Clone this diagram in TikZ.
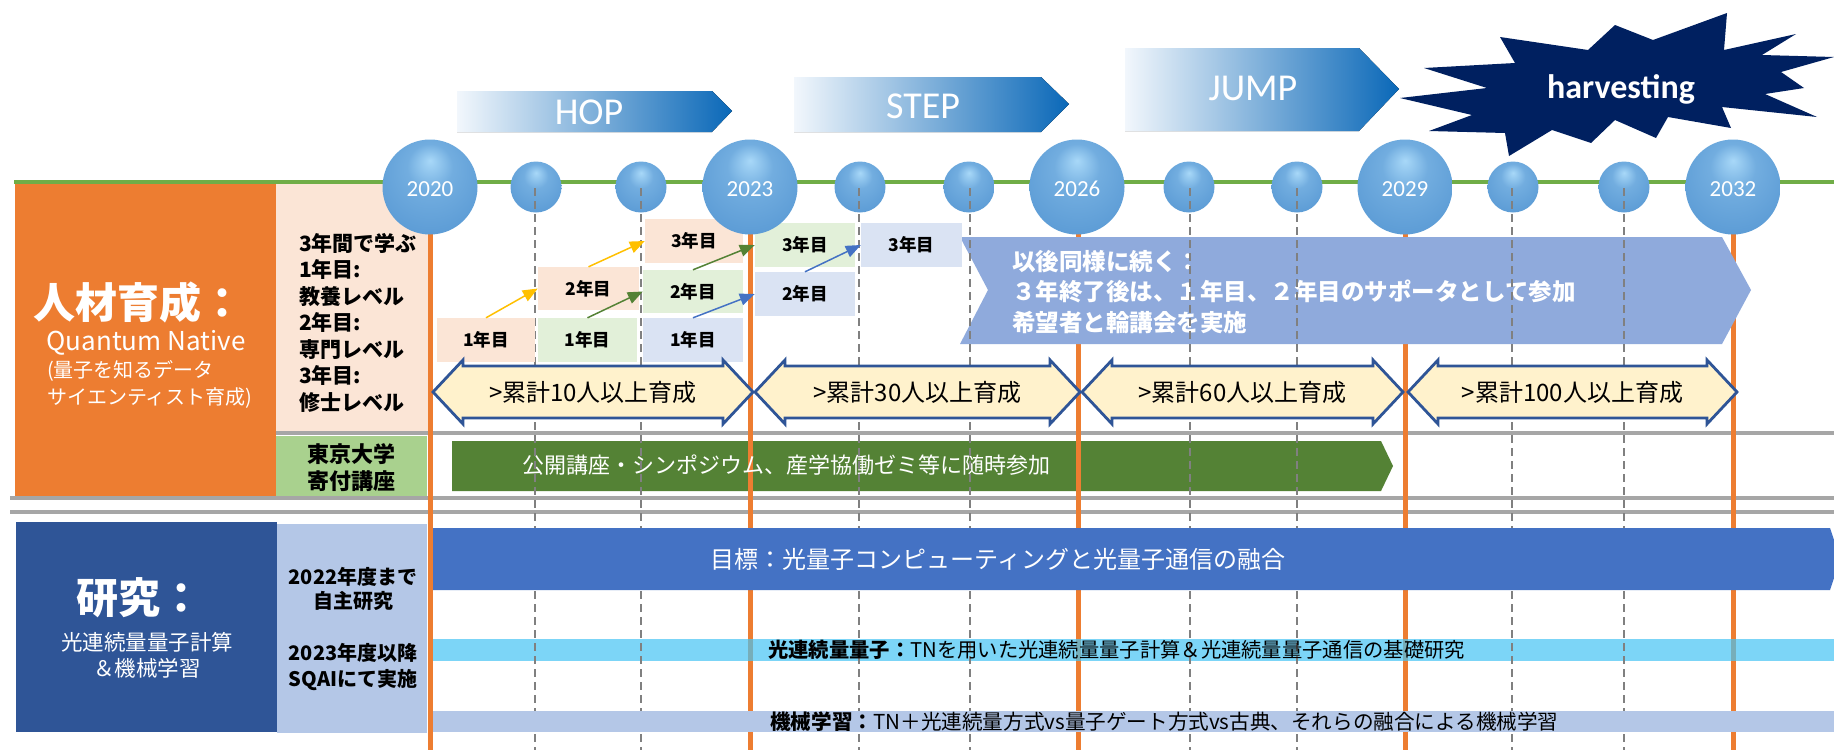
\documentclass[tikz,border=0pt]{standalone}
\usepackage{fontspec}
\setmainfont{Noto Sans CJK JP}
\newfontfamily\carl{Carlito}
\usetikzlibrary{arrows.meta}
\definecolor{cOrange}{HTML}{ED7D31}
\definecolor{cPeach}{HTML}{FBE5D6}
\definecolor{cLGreen}{HTML}{A9D18E}
\definecolor{cNavy}{HTML}{002060}
\definecolor{cDBlue}{HTML}{2F5597}
\definecolor{cLBlue}{HTML}{B4C7E7}
\definecolor{cBlue}{HTML}{4472C4}
\definecolor{cCyan}{RGB}{69,196,244}
\definecolor{cChev}{HTML}{8FAADC}
\definecolor{cGreen}{HTML}{548235}
\definecolor{cTLine}{HTML}{70AD47}
\definecolor{cBoxG}{HTML}{E2F0D9}
\definecolor{cBoxB}{HTML}{DAE3F3}
\definecolor{cYellow}{HTML}{FFC000}
\definecolor{cCream}{HTML}{FFF2CC}
\definecolor{cGray}{HTML}{A6A6A6}
\definecolor{cDash}{HTML}{808080}
\definecolor{ballhi}{HTML}{A8D8F8}
\definecolor{ballmid}{HTML}{5B9BD5}
\definecolor{ballrim}{HTML}{4A86C0}
\definecolor{gradL}{HTML}{F2F7FC}
\definecolor{gradR}{HTML}{0A68B8}
\pgfdeclareradialshading{ballsh}{\pgfpoint{0bp}{14bp}}{color(0bp)=(ballhi); color(12bp)=(ballmid!70!ballhi); color(32bp)=(ballmid); color(46bp)=(ballrim); color(50bp)=(ballrim)}
\newcommand\dblarr[4]{%
  \draw[dblshape] (#2,392) -- (#2+30,360) -- (#2+30,366) -- (#3-30,366) -- (#3-30,360) -- (#3,392) -- (#3-30,424) -- (#3-30,418) -- (#2+30,418) -- (#2+30,424) -- cycle;
  \node[dbltext] (#1) at ({(#2+#3)/2},392) {#4};}
\begin{document}
\begin{tikzpicture}[x=1pt,y=-1pt,
  orangeline/.style={cOrange, line width=5pt},
  dashline/.style={cDash, line width=1.8pt, dash pattern=on 8pt off 5pt},
  grayline/.style={cGray, line width=4pt},
  yeartext/.style={font=\carl\fontsize{23}{23}\selectfont, text=white, inner sep=0},
  yrbox/.style={fill=#1, inner sep=0, minimum height=44pt, minimum width=99pt, font=\fontsize{17.5}{17.5}\selectfont\bfseries},
  grow/.style={-{Triangle[length=15pt,width=12pt]}, line width=1.5pt, #1},
  dblshape/.style={draw=cDBlue, fill=cCream, line width=2.8pt, line join=miter},
  dbltext/.style={font=\fontsize{24}{24}\selectfont, inner sep=0},
  phase/.style={left color=gradL, right color=gradR},
  phasetext/.style={font=\carl\fontsize{38}{38}\selectfont, text=white, inner sep=0},
  wtext/.style={text=white, inner sep=0},
  ktext/.style={text=black, inner sep=0}]
\useasboundingbox (0,0) rectangle (1834,750);
\fill[white] (0,0) rectangle (1834,750);
% left panels
\fill[cOrange] (15,184) rectangle (276,496);
\fill[cPeach] (276,184) rectangle (428,432);
\fill[cLGreen] (276,436) rectangle (427,496);
\fill[cDBlue] (16,522) rectangle (277,732);
\fill[cLBlue] (277,524) rectangle (427,733);
% timeline
\draw[cTLine, line width=3.5pt] (14,182) -- (1834,182);
% gray separators
\draw[grayline] (276,433) -- (1834,433);
\draw[grayline] (10,498) -- (1834,498);
\draw[grayline] (10,512) -- (1834,512);
% left texts
\node[wtext, font=\fontsize{42}{42}\selectfont\bfseries] (jinzai) at (139,302) {人材育成：};
\node[wtext, font=\fontsize{26}{26}\selectfont] (qn) at (146,343) {Quantum Native};
\node[wtext, anchor=west, align=left, font=\fontsize{20}{27}\selectfont] (qnsub) at (47,384) {(量子を知るデータ\\サイエンティスト育成)};
\node[ktext, anchor=west, align=left, font=\fontsize{21}{26.5}\selectfont\bfseries] (learn) at (299,322.5) {3年間で学ぶ\\1年目:\\教養レベル\\2年目:\\専門レベル\\3年目:\\修士レベル};
\node[ktext, align=center, font=\fontsize{22}{27}\selectfont\bfseries] (todai) at (351,468) {東京大学\\寄付講座};
\node[wtext, font=\fontsize{42}{42}\selectfont\bfseries] (kenkyu) at (139,598) {研究：};
\node[wtext, align=center, font=\fontsize{21.5}{26}\selectfont] (kenkyusub) at (147,655) {光連続量量子計算\\＆機械学習};
\node[ktext, align=center, font=\fontsize{20}{24}\selectfont\bfseries] (jishu) at (353,589) {2022年度まで\\自主研究};
\node[ktext, align=center, font=\fontsize{20}{26}\selectfont\bfseries] (sqai) at (353,667) {2023年度以降\\SQAIにて実施};
% green bar
\fill[cGreen] (452,441) -- (1381,441) -- (1393,466) -- (1381,491) -- (452,491) -- cycle;
% orange year lines
\foreach \x in {430,750,1078,1405,1733} \draw[orangeline] (\x,225) -- (\x,750);
\node[wtext, anchor=west, font=\fontsize{22}{22}\selectfont] (gbar) at (522,465) {公開講座・シンポジウム、産学協働ゼミ等に随時参加};
% small balls
\foreach \x in {536,641,860,969,1189,1297,1513,1624}
  \shade[shading=ballsh] (\x,187) circle (25.5pt);
% chevron
\fill[cChev] (960,237) -- (1722,237) -- (1751,290) -- (1722,344) -- (960,344) -- (988,290) -- cycle;
\node[wtext, anchor=west, align=left, font=\fontsize{23.5}{30.5}\selectfont\bfseries] (chev) at (1012,292) {以後同様に続く：\\３年終了後は、１年目、２年目のサポータとして参加\\希望者と輪講会を実施};
% cyan bar
\fill[cCyan, opacity=0.7] (433,639) rectangle (1834,661);
% dashed lines
\foreach \x in {535,641,859,970,1190,1297,1512,1624} \draw[dashline] (\x,188) -- (\x,750);
% year boxes
\node[yrbox=cPeach, minimum width=98pt] (p1) at (486,340) {1年目};
\node[yrbox=cBoxG] (g1) at (587.5,340) {1年目};
\node[yrbox=cBoxB, minimum width=100pt] (b1) at (693,340) {1年目};
\node[yrbox=cPeach, minimum width=101pt, minimum height=43pt] (p2) at (588.5,288.5) {2年目};
\node[yrbox=cBoxG, minimum width=100pt, minimum height=43pt] (g2) at (693,291.5) {2年目};
\node[yrbox=cPeach, minimum width=98pt] (p3) at (694,241) {3年目};
\node[yrbox=cBoxG, minimum width=100pt] (g3) at (805,245) {3年目};
\node[yrbox=cBoxB, minimum width=100pt] (b2) at (805,294) {2年目};
\node[yrbox=cBoxB, minimum width=101pt] (b3) at (911.5,245) {3年目};
\draw[grow=cYellow] (p1.north) -- (p2.west);
\draw[grow=cYellow] (p2.north) -- (p3.west);
\draw[grow=cGreen] (g1.north) -- (g2.west);
\draw[grow=cGreen] (g2.north) -- (g3.west);
\draw[grow=cBlue] (b1.north) -- (b2.west);
\draw[grow=cBlue] (b2.north) -- (b3.west);
% big balls (over the boxes)
\foreach \x/\yr in {430/2020,750/2023,1077/2026,1405/2029,1733/2032}{
  \shade[shading=ballsh] (\x,187) circle (47.5pt);
  \node[yeartext] (y\yr) at (\x,189) {\yr};}
% cumulative arrows
\dblarr{a1}{433}{753}{>累計10人以上育成}
\dblarr{a2}{755}{1080}{>累計30人以上育成}
\dblarr{a3}{1082}{1403}{>累計60人以上育成}
\dblarr{a4}{1408}{1737}{>累計100人以上育成}
% research bars
\fill[cBlue] (433,528) -- (1830,528) -- (1834,540) -- (1834,578) -- (1830,590) -- (433,590) -- cycle;
\node[wtext, font=\fontsize{24}{24}\selectfont] (goal) at (998,559) {目標：光量子コンピューティングと光量子通信の融合};
\node[ktext, anchor=west, font=\fontsize{20.3}{20.3}\selectfont] (cvq) at (768,650) {{\bfseries 光連続量量子：}TNを用いた光連続量量子計算＆光連続量量子通信の基礎研究};
\fill[cLBlue] (433,711) rectangle (1834,732);
\node[ktext, anchor=west, font=\fontsize{20.6}{20.6}\selectfont] (ml) at (770,722) {{\bfseries 機械学習：}TN＋光連続量方式vs量子ゲート方式vs古典、それらの融合による機械学習};
% phases
\fill[phase] (457,91) -- (712,91) -- (732,111) -- (712,132) -- (457,132) -- cycle;
\node[phasetext] (hop) at (589,112) {HOP};
\fill[phase] (794,77) -- (1041,77) -- (1069,104) -- (1041,132) -- (794,132) -- cycle;
\node[phasetext] (step) at (923,106) {STEP};
\fill[phase] (1125,48) -- (1359,48) -- (1399,89) -- (1359,131) -- (1125,131) -- cycle;
\node[phasetext] (jump) at (1253,88) {JUMP};
\fill[cNavy] (1727,13) -- (1724,50) -- (1796,34) -- (1762,55) -- (1834,57) -- (1781,72) -- (1804,88) -- (1765,94) -- (1817,117) -- (1722,107) -- (1731,128) -- (1668,117) -- (1656,138) -- (1615,120) -- (1591,143) -- (1552,130) -- (1509,156) -- (1505,133) -- (1429,131) -- (1472,115) -- (1400,98) -- (1487,88) -- (1424,68) -- (1515,63) -- (1500,37) -- (1588,50) -- (1615,25) -- (1653,40) -- cycle;
\node[wtext, font=\carl\bfseries\fontsize{34}{34}\selectfont] (harv) at (1621,89) {harvesting};
\end{tikzpicture}
\end{document}
